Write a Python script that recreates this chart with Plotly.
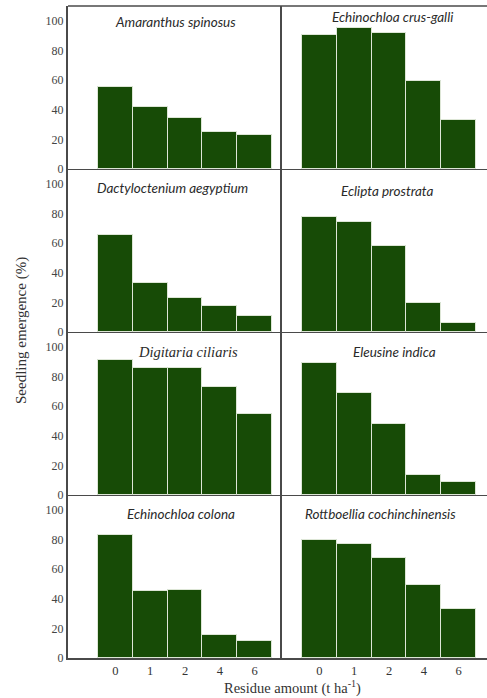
import plotly.graph_objects as go
from plotly.subplots import make_subplots

residue_labels = ["0", "1", "2", "4", "6"]

species = [
    "Amaranthus spinosus", "Echinochloa crus-galli",
    "Dactyloctenium aegyptium", "Eclipta prostrata",
    "Digitaria ciliaris", "Eleusine indica",
    "Echinochloa colona", "Rottboellia cochinchinensis",
]

amaranthus_spinosus = [55.2, 41.8, 34.4, 25.2, 22.8]
echinochloa_crus_galli = [90.6, 95.2, 91.7, 59.7, 33.1]
dactyloctenium_aegyptium = [65.8, 32.8, 23.0, 17.3, 10.9]
eclipta_prostrata = [77.5, 74.1, 58.1, 19.4, 6.2]
digitaria_ciliaris = [91.2, 85.8, 85.8, 73.0, 54.7]
eleusine_indica = [89.2, 68.7, 48.0, 13.5, 9.0]
echinochloa_colona = [83.2, 45.4, 46.0, 15.4, 11.4]
rottboellia_cochinchinensis = [79.5, 77.2, 67.6, 49.3, 33.2]

series = [
    amaranthus_spinosus, echinochloa_crus_galli,
    dactyloctenium_aegyptium, eclipta_prostrata,
    digitaria_ciliaris, eleusine_indica,
    echinochloa_colona, rottboellia_cochinchinensis,
]

BAR = "#174b06"
LINE = "#4a4a4a"
SERIF = "Liberation Serif"

fig = make_subplots(rows=4, cols=2, column_widths=[214, 205],
                    horizontal_spacing=0, vertical_spacing=0)

xpos = list(range(len(residue_labels)))

# title placement (x in panel-domain fraction, y offset px from panel top)
title_pos = [(0.50, 16), (0.54, 11), (0.49, 19), (0.51, 22),
             (0.56, 20), (0.55, 20), (0.53, 19), (0.48, 19)]

panel_h = 163.0
for i, (name, vals) in enumerate(zip(species, series)):
    r = i // 2 + 1
    c = i % 2 + 1
    fig.add_trace(go.Bar(x=xpos, y=vals, marker_color=BAR,
                         marker_line=dict(color="#dde6d6", width=1),
                         width=1.0, showlegend=False, hoverinfo="skip"),
                  row=r, col=c)
    tx, ty = title_pos[i]
    font_fam = SERIF if name == "Digitaria ciliaris" else "Lato"
    fsize = 14.5 if name == "Digitaria ciliaris" else 13.5
    idx = i + 1
    xr = "x domain" if idx == 1 else f"x{idx} domain"
    yr = "y domain" if idx == 1 else f"y{idx} domain"
    fig.add_annotation(text=f"<i>{name}</i>", xref=xr, yref=yr,
                       x=tx, y=1 - ty / panel_h, showarrow=False,
                       xanchor="center", yanchor="middle",
                       font=dict(family=font_fam, size=fsize, color="#2a2a2a"))

for r in range(1, 5):
    for c in (1, 2):
        rng = [-1.362, 4.787] if c == 1 else [-1.075, 4.816]
        fig.update_xaxes(range=rng, tickvals=xpos, ticktext=residue_labels,
                         showticklabels=(r == 4), ticks="", showgrid=False,
                         zeroline=False, showline=True, linecolor=LINE,
                         linewidth=2 if r == 4 else 1.2,
                         tickfont=dict(family=SERIF, size=12.5, color="#333"),
                         row=r, col=c)
        fig.update_yaxes(range=[0, 110], tickvals=[0, 20, 40, 60, 80, 100],
                         showticklabels=(c == 1), ticks="", showgrid=False,
                         zeroline=False, showline=True, linecolor=LINE,
                         linewidth=2 if c == 1 else 1.5,
                         tickfont=dict(family=SERIF, size=12, color="#444"),
                         row=r, col=c)

# top border
fig.add_shape(type="line", xref="paper", yref="paper", x0=0, x1=1, y0=1, y1=1,
              line=dict(color=LINE, width=1.5))

fig.add_annotation(text="Seedling emergence (%)", xref="paper", yref="paper",
                   x=(21 - 68) / 419, y=(658 - 331) / 652, textangle=-90, showarrow=False,
                   xanchor="center", yanchor="middle",
                   font=dict(family=SERIF, size=15, color="#333"))
fig.add_annotation(text="Residue amount (t ha<sup>-1</sup>)", xref="paper", yref="paper",
                   x=(292 - 68) / 419, y=-(687 - 658) / 652, showarrow=False,
                   xanchor="center", yanchor="middle",
                   font=dict(family=SERIF, size=14.5, color="#333"))

fig.update_layout(width=487, height=698, bargap=0,
                  margin=dict(l=68, r=0, t=6, b=40),
                  paper_bgcolor="white", plot_bgcolor="white")

fig.write_html("out.html",
               config={"displayModeBar": False},
               post_script="document.body.style.margin='0';"
                           "document.body.style.overflow='hidden';")
